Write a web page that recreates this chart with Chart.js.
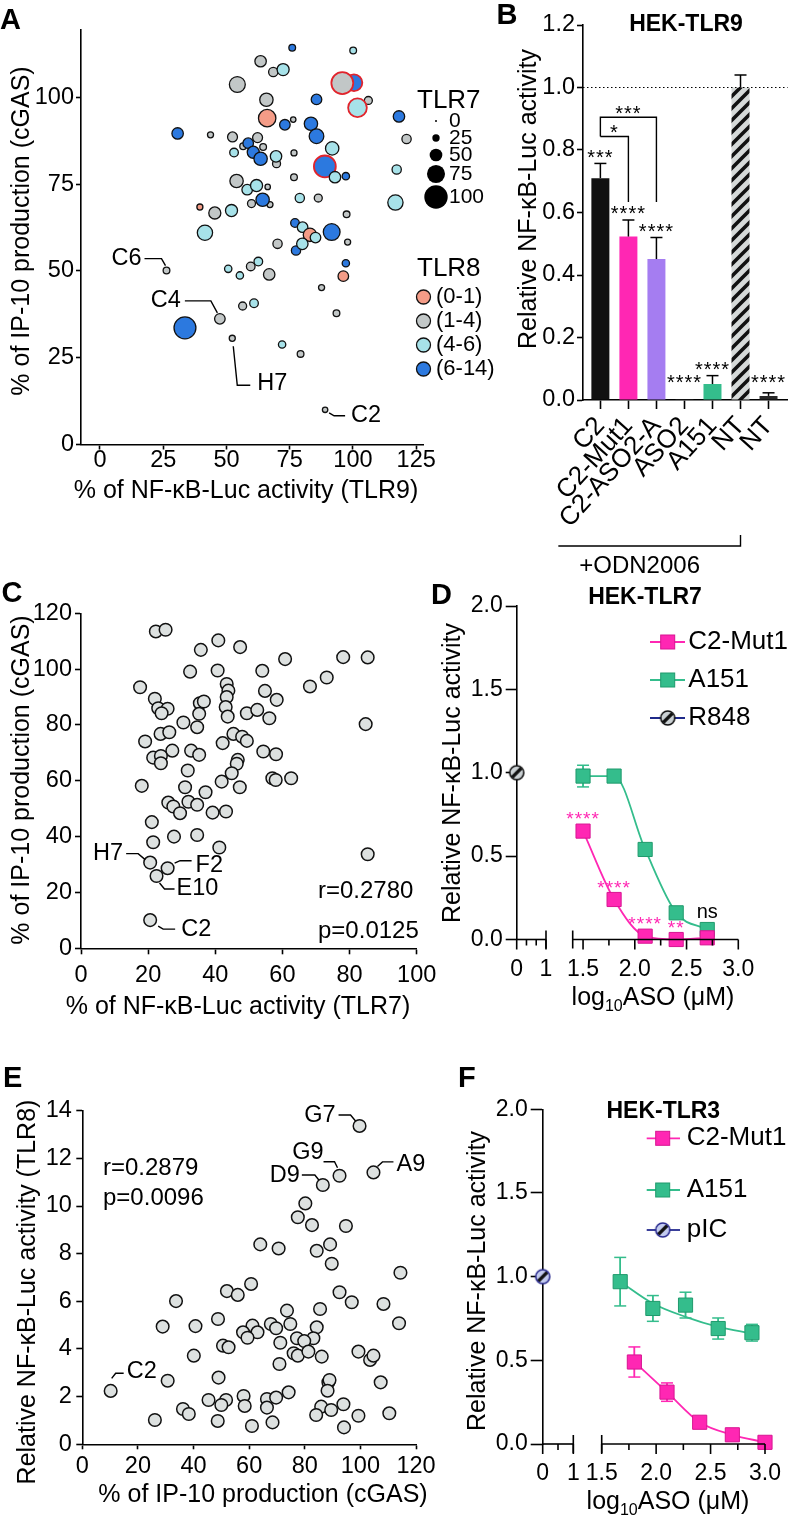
<!DOCTYPE html>
<html><head><meta charset="utf-8">
<script src="https://cdn.jsdelivr.net/npm/chart.js@4.4.1/dist/chart.umd.min.js"></script>
<style>
html,body{margin:0;padding:0;background:#fff;}
#wrap{position:relative;width:794px;height:1517px;overflow:hidden;background:#fff;}
canvas{position:absolute;left:0;top:0;}
</style></head><body>
<div id="wrap">
<canvas id="cA" width="794" height="1517"></canvas>
<canvas id="cB" width="794" height="1517"></canvas>
<canvas id="cC" width="794" height="1517"></canvas>
<canvas id="cD" width="794" height="1517"></canvas>
<canvas id="cE" width="794" height="1517"></canvas>
<canvas id="cF" width="794" height="1517"></canvas>
</div>
<script>
// ===================== DATA =====================
// Panel A: bubble scatter (x = TLR9 NF-kB %, y = cGAS IP-10 %, size = TLR7 %, colour = TLR8 group)
const aTLR9 = [76.0,100.1,63.5,68.5,72.4,54.3,100.4,95.8,65.8,85.6, 106.1,101.8,66.1,76.4,73.1,83.4,85.6,118.2,30.7,43.7, 52.4,62.3,56.6,64.5,58.6,60.6,69.8,63.5,53.0,69.6, 76.7,91.8,121.2,88.9,92.9,97.2,117.3,76.7,54.0,66.3, 58.2,61.9,59.9,67.2,64.3,79.0,86.3,39.5,45.4,52.0, 41.5,116.8,97.5,77.1,80.1,83.0,85.2,91.6,77.5,80.0, 70.2,97.9,97.2,96.2,87.6,26.3,50.7,55.3,59.6,62.6, 66.9,47.4,33.6,52.3,56.4,60.9,72.0,79.3,93.5,89.0];
const aCGAS = [114.3,113.5,110.4,107.3,108.0,103.7,104.2,104.1,99.3,99.4, 99.1,97.0,94.0,93.6,92.1,92.4,88.8,94.5,89.6,89.2, 88.6,88.4,85.9,85.7,86.8,84.2,80.9,82.3,84.1,83.0, 84.0,85.3,88.0,80.1,77.0,77.3,79.2,77.0,75.9,74.2, 73.4,74.6,69.4,69.1,70.5,71.0,71.0,68.4,66.7,67.4, 61.0,69.7,66.3,63.8,62.6,60.4,59.6,61.2,55.9,57.8, 57.8,58.3,52.2,48.5,45.2,50.1,50.6,48.7,51.3,52.7, 49.0,36.2,33.6,30.6,39.9,40.7,28.8,26.1,37.8,10.0];
const aTLR7 = [22,22,44,34,47,65,69,93,53,40, 28,78,72,16,40,53,59,44,44,19, 37,37,22,22,40,47,28,53,31,44, 19,53,34,93,44,25,34,22,53,16, 40,47,28,19,53,34,28,19,47,47, 62,62,22,31,40,53,40,69,34,44, 34,19,25,40,19,22,25,25,31,31, 44,40,93,19,28,31,25,22,22,16];
const aTLR8 = ['6-14','4-6','1-4','1-4','4-6','1-4','6-14','1-4','1-4','6-14', '1-4','4-6','0-1','1-4','6-14','6-14','6-14','6-14','6-14','1-4', '1-4','1-4','1-4','1-4','6-14','6-14','1-4','6-14','4-6','4-6', '1-4','4-6','1-4','6-14','4-6','6-14','4-6','1-4','1-4','1-4', '4-6','4-6','1-4','1-4','6-14','4-6','1-4','0-1','1-4','4-6', '4-6','4-6','1-4','6-14','4-6','0-1','4-6','6-14','6-14','4-6', '1-4','1-4','6-14','0-1','1-4','1-4','4-6','4-6','1-4','4-6', '1-4','1-4','6-14','1-4','1-4','4-6','4-6','1-4','1-4','1-4'];
const aRinged = [6, 7, 11, 33];
const aNamed = {65:'C6', 71:'C4', 73:'H7', 79:'C2'};
const aXTicks = [0,25,50,75,100,125];
const aYTicks = [0,25,50,75,100];
const aSizeKey = [0,25,50,75,100];
const aGroupKey = ['0-1','1-4','4-6','6-14'];

// Panel B: bars
const bLabels = ['C2','C2-Mut1','C2-ASO2-A','ASO2','A151','NT','NT'];
const bMean = [0.71,0.523,0.451,0.003,0.051,1.0,0.013];
const bSEM  = [0.047,0.053,0.069,0,0.027,0.04,0.01];
const bStars = ['***','****','****','****','****','','****'];
const bYTicks = [0,0.2,0.4,0.6,0.8,1.0,1.2];

// Panel C: scatter (x = TLR7 %, y = cGAS %)
const cTLR7 = [22.3,25.2,40.9,35.7,47.4,60.8,78.1,85.4,32.5,40.7, 54.0,73.2,68.2,17.6,43.4,43.9,54.8,22.0,58.3,35.4, 36.6,43.4,23.0,25.8,24.0,43.1,49.4,52.5,35.2,43.7, 56.1,84.8,30.5,34.6,23.7,26.3,45.4,48.0,49.4,19.1, 42.2,27.2,32.8,35.2,54.3,58.1,21.5,23.8,23.8,46.7, 46.4,31.8,44.9,41.9,47.3,18.1,31.0,37.1,57.0,58.0, 62.6,26.0,27.5,29.5,32.0,34.6,39.2,43.2,21.1,27.7, 34.6,21.5,41.2,20.6,25.8,22.5,20.6,85.4];
const cCGAS = [113.5,114.1,110.3,106.9,107.9,103.6,104.3,104.2,99.1,99.5, 99.4,97.0,93.8,93.5,94.7,92.3,92.2,89.4,89.0,87.8, 88.4,90.0,86.0,85.8,84.2,86.4,84.2,85.4,84.0,83.0, 82.4,80.3,80.9,79.2,76.8,77.4,76.8,75.8,74.3,74.1, 73.5,70.8,70.8,69.3,70.5,69.5,68.3,68.9,66.3,67.5, 66.1,63.7,62.7,59.7,57.7,58.2,57.7,55.9,60.9,60.3, 60.9,52.2,50.8,48.4,52.5,51.4,48.6,49.0,45.2,40.0, 40.6,38.0,36.1,30.7,28.7,25.9,10.1,33.7];
const cNamed = {73:'H7', 74:'F2', 75:'E10', 76:'C2'};
const cStats = ['r=0.2780','p=0.0125'];
const cXTicks = [0,20,40,60,80,100];
const cYTicks = [0,20,40,60,80,100,120];

// Panel D: HEK-TLR7 dose response
const dDose = [1.5,1.8,2.1,2.4,2.7];
const dMut1 = [0.65,0.24,0.02,0.0,0.01];
const dMut1Err = [0.02,0.02,0.01,0.01,0.01];
const dA151 = [0.98,0.98,0.54,0.16,0.06];
const dA151Err = [0.065,0.02,0.03,0.02,0.02];
const dR848 = 1.0;
const dMut1Stars = ['****','****','****','**',''];
const dA151Stars = ['','','','','ns'];

// Panel E: scatter (x = cGAS %, y = TLR8 activity)
const eCGAS = [99.7,92.5,104.7,86.5,80.2,77.5,82.6,94.8,64.0,70.6, 89.1,84.3,89.7,114.4,60.7,52.0,55.9,33.7,92.5,96.9, 108.3,85.5,73.6,48.8,28.9,40.7,61.2,67.8,74.8,84.3, 113.9,57.8,63.0,59.4,69.7,83.1,77.2,79.8,71.2,50.6, 52.6,99.3,76.0,77.5,81.3,86.1,103.5,104.7,40.1,70.9, 30.7,49.0,88.5,88.9,88.2,107.3,10.2,74.2,45.4,51.7, 58.0,66.4,69.7,50.0,58.4,66.4,36.2,38.3,85.9,89.5, 93.9,84.1,99.3,110.4,26.1,48.7,68.4,61.0,94.1];
const eTLR8 = [13.36,11.27,11.41,10.88,10.11,9.53,9.20,9.16,8.39,8.22, 8.39,8.12,7.58,7.20,6.73,6.43,6.27,6.01,6.38,5.96, 5.89,5.68,5.61,5.26,4.94,4.96,4.98,5.05,5.05,4.91, 5.08,4.70,4.70,4.47,4.87,4.45,4.45,4.33,4.26,4.14, 4.07,3.89,3.82,3.72,3.89,3.68,3.54,3.72,3.72,3.37, 2.67,2.80,2.60,2.70,2.25,2.60,2.24,2.18,1.86,1.86, 2.03,1.90,1.96,1.65,1.61,1.54,1.48,1.27,1.58,1.44, 1.68,1.23,1.20,1.30,1.02,0.98,0.92,0.77,0.71];
const eNamed = {0:'G7', 1:'G9', 2:'A9', 3:'D9', 56:'C2'};
const eStats = ['r=0.2879','p=0.0096'];
const eXTicks = [0,20,40,60,80,100,120];
const eYTicks = [0,2,4,6,8,10,12,14];

// Panel F: HEK-TLR3 dose response
const fMutDose = [1.8,2.1,2.4,2.7,3.0];
const fMut1 = [0.49,0.31,0.13,0.055,0.01];
const fMut1Err = [0.09,0.055,0.02,0.02,0.01];
const fA151Dose = [1.67,1.97,2.27,2.57,2.88];
const fA151 = [0.97,0.81,0.83,0.69,0.665];
const fA151Err = [0.145,0.077,0.077,0.063,0.05];
const fA151Fit = [0.97,0.84,0.76,0.70,0.66];
const fPIC = 1.0;

// shared tick sets for the dose-response panels
const dfYTicks = [0,0.5,1.0,1.5,2.0];
const brokenMajor = [0,1,1.5,2.0,2.5,3.0];
const brokenLabels = ['0','1','1.5','2.0','2.5','3.0'];
const dMinor = [1/3,2/3,1.75,2.25,2.75];
const fMinor = [0.5,1.75,2.25,2.75];

// ===================== STYLE / HELPERS =====================
const W = 794, H = 1517;
const FONT = "'Liberation Sans', Arial, Helvetica, sans-serif";
Chart.defaults.font.family = FONT;
Chart.defaults.color = '#000';
const MAG = '#FF27B3', MAGD = '#D81592', GRN = '#34BD8C', GRND = '#1F9A6C', LAV = '#A57DF1';
const GROUP_COLOR = {'0-1':'#F49C87','1-4':'#C2C7C7','4-6':'#A7E2E9','6-14':'#2C79DF'};
const PT_FILL = '#DDE1E0';
const sizeR = v => 1 + 0.107 * v;

function T(c, s, x, y, o) {
  o = o || {};
  c.save();
  c.font = (o.bold ? 'bold ' : '') + (o.size || 23.5) + 'px ' + FONT;
  c.fillStyle = o.color || '#000';
  c.textAlign = o.align || 'center';
  c.textBaseline = o.base || 'middle';
  if (o.ls) c.letterSpacing = o.ls + 'px';
  c.translate(x, y);
  if (o.rot) c.rotate(o.rot);
  c.fillText(s, 0, 0);
  c.restore();
}
function L(c, pts, o) {
  o = o || {};
  c.save();
  c.strokeStyle = o.color || '#000';
  c.lineWidth = o.w || 1.4;
  if (o.dash) c.setLineDash(o.dash);
  c.beginPath();
  pts.forEach((p, i) => i ? c.lineTo(p[0], p[1]) : c.moveTo(p[0], p[1]));
  c.stroke();
  c.restore();
}
function yTitle(c, s, x, y) { T(c, s, x, y, {size: 25, rot: -Math.PI / 2}); }
function letter(c, s, x, base) { T(c, s, x, base, {size: 29, bold: true, align: 'left', base: 'alphabetic'}); }
function stars(c, s, x, yc, color, size) { size = size || 20; T(c, s, x, yc + 0.57 * size, {size: size, base: 'alphabetic', color: color, ls: 1}); }
function errBar(c, x, y1, y2, cap, color) {
  L(c, [[x, y1], [x, y2]], {color: color, w: 1.5});
  L(c, [[x - cap, y2], [x + cap, y2]], {color: color, w: 1.5});
}
function logTitle(c, cx, cy) {
  const s = 25, ss = 16;
  c.save(); c.fillStyle = '#000'; c.textBaseline = 'alphabetic'; c.textAlign = 'left';
  const f1 = s + 'px ' + FONT, f2 = ss + 'px ' + FONT;
  c.font = f1; const w1 = c.measureText('log').width, w3 = c.measureText('ASO (\u03BCM)').width;
  c.font = f2; const w2 = c.measureText('10').width;
  let x = cx - (w1 + w2 + w3) / 2; const base = cy + 0.36 * s;
  c.font = f1; c.fillText('log', x, base); x += w1;
  c.font = f2; c.fillText('10', x, base + 6); x += w2;
  c.font = f1; c.fillText('ASO (\u03BCM)', x, base);
  c.restore();
}
function stripedDot(fill, edge) {
  const s = 18, r = 7, cv = document.createElement('canvas'); cv.width = s; cv.height = s;
  const g = cv.getContext('2d');
  g.beginPath(); g.arc(s / 2, s / 2, r, 0, 2 * Math.PI); g.fillStyle = fill; g.fill();
  g.save(); g.clip(); g.strokeStyle = '#111'; g.lineWidth = 3.2;
  g.beginPath(); g.moveTo(s / 2 - 4.5, s / 2 + 4.5); g.lineTo(s / 2 + 4.5, s / 2 - 4.5); g.stroke(); g.restore();
  g.beginPath(); g.arc(s / 2, s / 2, r, 0, 2 * Math.PI); g.strokeStyle = edge; g.lineWidth = 1.6; g.stroke();
  return cv;
}
function hatchPattern(ctx) {
  const p = document.createElement('canvas'); p.width = 12; p.height = 12;
  const g = p.getContext('2d');
  g.fillStyle = '#D5D9D8'; g.fillRect(0, 0, 12, 12);
  g.strokeStyle = '#111'; g.lineWidth = 3.6;
  g.beginPath(); g.moveTo(-3, 15); g.lineTo(15, -3); g.moveTo(-3, 3); g.lineTo(3, -3); g.moveTo(9, 15); g.lineTo(15, 9); g.stroke();
  return ctx.createPattern(p, 'repeat');
}

// axis factory: chart area fixed through layout padding + afterFit
function axis(s, dir, area) {
  return {
    type: s.type || 'linear', min: s.min, max: s.max, display: s.display !== false,
    position: dir === 'x' ? 'bottom' : 'left', offset: false,
    border: {display: true, color: '#000', width: 1.6},
    grid: {display: true, drawOnChartArea: false, drawTicks: true, offset: false, tickLength: s.tl || 0, tickColor: '#000', tickWidth: 1.6},
    ticks: {color: '#000', font: {family: FONT, size: s.fs || 23.5}, padding: s.pad || 0, autoSkip: false,
            maxRotation: s.rot || 0, minRotation: s.rot || 0, callback: s.fmt || (v => String(v))},
    afterBuildTicks: sc => { sc.ticks = s.ticks.map(v => ({value: v})); },
    afterFit: dir === 'x' ? (sc => { sc.height = H - area.bottom; }) : (sc => { sc.width = area.left; }),
    title: {display: false}
  };
}
function options(area, xs, ys) {
  return {
    responsive: false, animation: false, devicePixelRatio: 1, events: [],
    layout: {padding: {left: 0, top: area.top, right: W - area.right, bottom: 0}},
    plugins: {legend: {display: false}, tooltip: {enabled: false}, title: {display: false}},
    scales: {x: axis(xs, 'x', area), y: axis(ys, 'y', area)}
  };
}

// broken x scale used by panels D and F
const BRK = {
  cD: {a0: 0, a1: 1, b0: 1.4, b1: 3.0, f1: 0.1322, f2: 0.2527},
  cF: {a0: 0, a1: 1, b0: 1.5, b1: 3.0, f1: 0.1377, f2: 0.2654}
};
class BrokenLinear extends Chart.LinearScale {
  getPixelForValue(v) {
    const b = BRK[this.chart.canvas.id];
    let t;
    if (v <= (b.a1 + b.b0) / 2) t = (v - b.a0) / (b.a1 - b.a0) * b.f1;
    else t = b.f2 + (v - b.b0) / (b.b1 - b.b0) * (1 - b.f2);
    return this.left + t * this.width;
  }
  getValueForPixel(p) {
    const b = BRK[this.chart.canvas.id];
    const t = (p - this.left) / this.width;
    if (t <= b.f1) return b.a0 + t / b.f1 * (b.a1 - b.a0);
    return b.b0 + (t - b.f2) / (1 - b.f2) * (b.b1 - b.b0);
  }
}
BrokenLinear.id = 'brokenLinear';
BrokenLinear.defaults = Chart.LinearScale.defaults;
Chart.register(BrokenLinear);

function brokenAxis(ch, seg2start, minor) {
  const c = ch.ctx, xs = ch.scales.x, y0 = ch.chartArea.bottom, px = v => xs.getPixelForValue(v);
  L(c, [[px(0), y0], [px(1), y0]], {w: 1.6});
  L(c, [[px(seg2start), y0], [px(3.0), y0]], {w: 1.6});
  [1, seg2start].forEach(v => L(c, [[px(v), y0 - 9], [px(v), y0 + 9]], {w: 1.6}));
  brokenMajor.forEach(v => L(c, [[px(v), y0], [px(v), y0 + 10]], {w: 1.6}));
  minor.forEach(v => L(c, [[px(v), y0], [px(v), y0 + 6]], {w: 1.6}));
  brokenMajor.forEach((v, i) => T(c, brokenLabels[i], px(v), y0 + 30, {size: 23}));
}
function seriesLegend(c, items, x0, x1, xm, xt) {
  items.forEach(it => {
    L(c, [[x0, it.y], [x1, it.y]], {color: it.line, w: 1.8});
    if (it.img) c.drawImage(it.img, xm - it.img.width / 2, it.y - it.img.height / 2);
    else { c.fillStyle = it.fill; c.fillRect(xm - 7, it.y - 7, 14, 14); c.strokeStyle = it.edge; c.lineWidth = 1; c.strokeRect(xm - 7, it.y - 7, 14, 14); }
    T(c, it.text, xt, it.y, {size: 26, align: 'left'});
  });
}
function ov(id, after, before) { return {id: id, afterDraw: after, beforeDatasetsDraw: before}; }

// ===================== PANEL A =====================
const areaA = {left: 81, top: 30, right: 423, bottom: 444.5};
new Chart(document.getElementById('cA'), {
  type: 'scatter',
  data: {datasets: [{
    data: aTLR9.map((x, i) => ({x: x, y: aCGAS[i]})),
    pointRadius: ctx => sizeR(aTLR7[ctx.dataIndex]),
    pointBackgroundColor: ctx => GROUP_COLOR[aTLR8[ctx.dataIndex]],
    pointBorderColor: ctx => aRinged.includes(ctx.dataIndex) ? '#E1242C' : '#111',
    pointBorderWidth: ctx => aRinged.includes(ctx.dataIndex) ? 1.8 : 1.3,
    clip: false
  }]},
  options: options(areaA,
    {min: -7.5, max: 127.7, ticks: aXTicks, tl: 5, pad: -3.5},
    {min: 0, max: 119.4, ticks: aYTicks, tl: 5, pad: 2}),
  plugins: [ov('ovA', ch => {
    const c = ch.ctx, xs = ch.scales.x, ys = ch.scales.y, a = ch.chartArea;
    letter(c, 'A', 0, 28.5);
    yTitle(c, '% of IP-10 production (cGAS)', 22, 231);
    T(c, '% of NF-\u03BAB-Luc activity (TLR9)', 246, 491, {size: 25});
    const P = i => [xs.getPixelForValue(aTLR9[i]), ys.getPixelForValue(aCGAS[i])];
    let x, y;
    [x, y] = P(65); L(c, [[x - 22, y - 12], [x - 5, y - 12], [x - 1, y - 5]]); T(c, aNamed[65], x - 25, y - 12, {align: 'right'});
    [x, y] = P(71); L(c, [[x - 35, y - 18], [x - 9, y - 18], [x - 2.5, y - 6]]); T(c, aNamed[71], x - 39, y - 18, {align: 'right'});
    [x, y] = P(73); L(c, [[x + 1, y + 8], [x + 5, y + 47], [x + 18, y + 47]]); T(c, aNamed[73], x + 25, y + 45, {align: 'left'});
    [x, y] = P(79); L(c, [[x + 4, y + 3], [x + 9, y + 6], [x + 20, y + 6]]); T(c, aNamed[79], x + 26, y + 6, {align: 'left'});
    // size legend (TLR7)
    const lx = a.right - 6;
    T(c, 'TLR7', lx, 101, {size: 26, align: 'left'});
    const sy = [121, 138, 155, 174, 197];
    aSizeKey.forEach((v, i) => {
      c.beginPath(); c.arc(lx + 19, sy[i], sizeR(v), 0, 2 * Math.PI); c.fillStyle = '#000'; c.fill();
      T(c, String(v), lx + 32, sy[i], {size: 21, align: 'left'});
    });
    // colour legend (TLR8)
    T(c, 'TLR8', lx, 269, {size: 26, align: 'left'});
    const gy = [297, 321, 345, 369];
    aGroupKey.forEach((g, i) => {
      c.beginPath(); c.arc(lx + 6.5, gy[i], 7, 0, 2 * Math.PI); c.fillStyle = GROUP_COLOR[g]; c.fill();
      c.lineWidth = 1.3; c.strokeStyle = '#111'; c.stroke();
      T(c, '(' + g + ')', lx + 19, gy[i], {size: 22, align: 'left'});
    });
  })]
});

// ===================== PANEL B =====================
const areaB = {left: 583, top: 25, right: 791, bottom: 400};
const ctxB = document.getElementById('cB').getContext('2d');
new Chart(ctxB, {
  type: 'bar',
  data: {datasets: [{
    data: bMean.map((v, i) => ({x: i, y: v})),
    backgroundColor: ['#111111', MAG, LAV, '#222222', GRN, hatchPattern(ctxB), '#2A2A2A'],
    borderWidth: 0, barPercentage: 0.642, categoryPercentage: 1
  }]},
  options: options(areaB,
    {min: -0.62, max: 6.68, ticks: [0, 1, 2, 3, 4, 5, 6], tl: 9, pad: 2, rot: 48, fs: 26, fmt: v => bLabels[v]},
    {min: 0, max: 1.2, ticks: bYTicks, tl: 6, pad: 2, fmt: v => v.toFixed(1)}),
  plugins: [ov('ovB', ch => {
    const c = ch.ctx, xs = ch.scales.x, ys = ch.scales.y, a = ch.chartArea;
    const X = i => xs.getPixelForValue(i), Y = v => ys.getPixelForValue(v);
    letter(c, 'B', 496.5, 23.5);
    T(c, 'HEK-TLR9', 686, 25, {size: 23, bold: true});
    yTitle(c, 'Relative NF-\u03BAB-Luc activity', 529, 199);
    L(c, [[a.left, Y(1)], [a.right, Y(1)]], {w: 1, dash: [1.5, 2.5]});
    bMean.forEach((v, i) => {
      if (bSEM[i] > 0) errBar(c, X(i), Y(v), Y(v + bSEM[i]), 6, '#000');
      if (bStars[i]) stars(c, bStars[i], X(i), Y(Math.max(v + bSEM[i], 0.035)) - 11, '#000', 20);
    });
    // comparison brackets C2 vs C2-Mut1 (*) and C2 vs C2-ASO2-A (***)
    L(c, [[X(0), Y(0.843)], [X(0), Y(0.905)], [X(2), Y(0.905)], [X(2), Y(0.634)]]);
    L(c, [[X(0), Y(0.843)], [X(1), Y(0.843)], [X(1), Y(0.634)]]);
    stars(c, '***', X(1), Y(0.905) - 9, '#000', 20);
    stars(c, '*', (X(0) + X(1)) / 2, Y(0.843) - 9, '#000', 20);
    // +ODN2006 bracket
    const yb = a.bottom + 146;
    L(c, [[X(-1.5), yb], [X(5), yb], [X(5), yb - 11]]);
    T(c, '+ODN2006', X(1.4), a.bottom + 166, {size: 24});
  })]
});

// ===================== PANEL C =====================
const areaC = {left: 81, top: 613.3, right: 416.7, bottom: 948.3};
new Chart(document.getElementById('cC'), {
  type: 'scatter',
  data: {datasets: [{
    data: cTLR7.map((x, i) => ({x: x, y: cCGAS[i]})),
    pointRadius: 6.3, backgroundColor: PT_FILL, borderColor: '#111', borderWidth: 1.5, clip: false
  }]},
  options: options(areaC,
    {min: 0, max: 100, ticks: cXTicks, tl: 6, pad: 7.4},
    {min: 0, max: 120, ticks: cYTicks, tl: 6, pad: 3}),
  plugins: [ov('ovC', ch => {
    const c = ch.ctx, xs = ch.scales.x, ys = ch.scales.y;
    letter(c, 'C', 1.5, 601.5);
    yTitle(c, '% of IP-10 production (cGAS)', 22, 780);
    T(c, '% of NF-\u03BAB-Luc activity (TLR7)', 238, 1006.7, {size: 25});
    T(c, cStats[0], 318, 891, {size: 24, align: 'left'});
    T(c, cStats[1], 318, 931.7, {size: 24, align: 'left'});
    const P = i => [xs.getPixelForValue(cTLR7[i]), ys.getPixelForValue(cCGAS[i])];
    let x, y;
    [x, y] = P(73); L(c, [[x - 24, y - 9], [x - 12, y - 9], [x - 5, y - 3]]); T(c, cNamed[73], x - 27, y - 9.5, {align: 'right'});
    [x, y] = P(74); L(c, [[x + 7, y - 5], [x + 12.5, y - 7.5], [x + 24, y - 7.5]]); T(c, cNamed[74], x + 28, y - 2.5, {align: 'left'});
    [x, y] = P(75); L(c, [[x + 3, y + 7], [x + 8, y + 13], [x + 18, y + 13]]); T(c, cNamed[75], x + 20, y + 13, {align: 'left'});
    [x, y] = P(76); L(c, [[x + 8, y + 6], [x + 13, y + 9], [x + 25, y + 9]]); T(c, cNamed[76], x + 31, y + 9, {align: 'left'});
  })]
});

// ===================== PANEL D =====================
const areaD = {left: 516.7, top: 606, right: 738.3, bottom: 939.5};
const r848Dot = stripedDot('#CBD1D4', '#111');
new Chart(document.getElementById('cD'), {
  type: 'line',
  data: {datasets: [
    {data: dDose.map((x, i) => ({x: x, y: dMut1[i]})), borderColor: MAG, borderWidth: 1.8, pointStyle: 'rect', pointRadius: 10,
     pointBackgroundColor: MAG, pointBorderColor: MAGD, pointBorderWidth: 1, cubicInterpolationMode: 'monotone', clip: false},
    {data: dDose.map((x, i) => ({x: x, y: dA151[i]})), borderColor: GRN, borderWidth: 1.8, pointStyle: 'rect', pointRadius: 10,
     pointBackgroundColor: GRN, pointBorderColor: GRND, pointBorderWidth: 1, cubicInterpolationMode: 'monotone', clip: false},
    {data: [{x: 0, y: dR848}], showLine: false, pointStyle: r848Dot, pointRadius: 8, clip: false}
  ]},
  options: options(areaD,
    {type: 'brokenLinear', min: 0, max: 3.0, display: false, ticks: brokenMajor},
    {min: 0, max: 2.0, ticks: dfYTicks, tl: 11, pad: 3, fs: 23, fmt: v => v.toFixed(1)}),
  plugins: [ov('ovD', ch => {
    const c = ch.ctx, xs = ch.scales.x, ys = ch.scales.y;
    letter(c, 'D', 431, 603.5);
    T(c, 'HEK-TLR7', 645, 598, {size: 23, bold: true});
    yTitle(c, 'Relative NF-\u03BAB-Luc activity', 453, 773);
    logTitle(c, 653, 996);
    brokenAxis(ch, 1.4, dMinor);
    seriesLegend(c, [
      {y: 642, line: MAG, fill: MAG, edge: MAGD, text: 'C2-Mut1'},
      {y: 680, line: GRN, fill: GRN, edge: GRND, text: 'A151'},
      {y: 718, line: '#1F2A8A', img: r848Dot, text: 'R848'}
    ], 650, 685, 667.7, 688.3);
    dDose.forEach((d, i) => {
      if (dMut1Stars[i]) stars(c, dMut1Stars[i], xs.getPixelForValue(d), ys.getPixelForValue(dMut1[i] + 0.1), MAG, 19);
      if (dA151Stars[i]) T(c, dA151Stars[i], xs.getPixelForValue(d), ys.getPixelForValue(dA151[i] + 0.1), {size: 20});
    });
  }, ch => {
    const c = ch.ctx, xs = ch.scales.x, ys = ch.scales.y;
    dDose.forEach((d, i) => {
      errBar(c, xs.getPixelForValue(d), ys.getPixelForValue(dA151[i] - dA151Err[i]), ys.getPixelForValue(dA151[i] + dA151Err[i]), 6, GRN);
      errBar(c, xs.getPixelForValue(d), ys.getPixelForValue(dA151[i] + dA151Err[i]), ys.getPixelForValue(dA151[i] - dA151Err[i]), 6, GRN);
      errBar(c, xs.getPixelForValue(d), ys.getPixelForValue(dMut1[i] - dMut1Err[i]), ys.getPixelForValue(dMut1[i] + dMut1Err[i]), 6, MAG);
    });
  })]
});

// ===================== PANEL E =====================
const areaE = {left: 82.3, top: 1110.7, right: 416, bottom: 1444.3};
new Chart(document.getElementById('cE'), {
  type: 'scatter',
  data: {datasets: [{
    data: eCGAS.map((x, i) => ({x: x, y: eTLR8[i]})),
    pointRadius: 6.3, backgroundColor: PT_FILL, borderColor: '#111', borderWidth: 1.5, clip: false
  }]},
  options: options(areaE,
    {min: 0, max: 120, ticks: eXTicks, tl: 5, pad: 3.3},
    {min: 0, max: 14, ticks: eYTicks, tl: 6, pad: 4.5}),
  plugins: [ov('ovE', ch => {
    const c = ch.ctx, xs = ch.scales.x, ys = ch.scales.y;
    letter(c, 'E', 3, 1087);
    yTitle(c, 'Relative NF-\u03BAB-Luc activity (TLR8)', 28.5, 1292);
    T(c, '% of IP-10 production (cGAS)', 263, 1495, {size: 25});
    T(c, eStats[0], 103, 1168.3, {size: 24, align: 'left'});
    T(c, eStats[1], 103, 1198.3, {size: 24, align: 'left'});
    const P = i => [xs.getPixelForValue(eCGAS[i]), ys.getPixelForValue(eTLR8[i])];
    let x, y;
    [x, y] = P(0); L(c, [[x - 21, y - 11], [x - 9, y - 11], [x - 4, y - 5]]); T(c, eNamed[0], x - 24, y - 10, {align: 'right'});
    [x, y] = P(1); L(c, [[x - 16, y - 14], [x - 5, y - 14], [x - 2, y - 8]]); T(c, eNamed[1], x - 16, y - 23, {align: 'right'});
    [x, y] = P(3); L(c, [[x - 21, y - 10], [x - 8, y - 10], [x - 4, y - 5]]); T(c, eNamed[3], x - 23, y - 10, {align: 'right'});
    [x, y] = P(2); L(c, [[x + 4, y - 6], [x + 9, y - 10.5], [x + 20, y - 10.5]]); T(c, eNamed[2], x + 23, y - 8, {align: 'left'});
    [x, y] = P(56); L(c, [[x + 1, y - 12.5], [x + 5, y - 17.7], [x + 13, y - 17.7]]); T(c, eNamed[56], x + 16, y - 19, {align: 'left'});
  })]
});

// ===================== PANEL F =====================
const areaF = {left: 542.7, top: 1109.3, right: 765, bottom: 1444};
const picDot = stripedDot('#C3CBEF', '#2B2C8F');
new Chart(document.getElementById('cF'), {
  type: 'line',
  data: {datasets: [
    {data: fMutDose.map((x, i) => ({x: x, y: fMut1[i]})), borderColor: MAG, borderWidth: 1.8, pointStyle: 'rect', pointRadius: 10,
     pointBackgroundColor: MAG, pointBorderColor: MAGD, pointBorderWidth: 1, cubicInterpolationMode: 'monotone', clip: false},
    {data: fA151Dose.map((x, i) => ({x: x, y: fA151[i]})), showLine: false, pointStyle: 'rect', pointRadius: 10,
     pointBackgroundColor: GRN, pointBorderColor: GRND, pointBorderWidth: 1, clip: false},
    {data: fA151Dose.map((x, i) => ({x: x, y: fA151Fit[i]})), borderColor: GRN, borderWidth: 1.8, pointRadius: 0, cubicInterpolationMode: 'monotone', clip: false},
    {data: [{x: 0, y: fPIC}], showLine: false, pointStyle: picDot, pointRadius: 8, clip: false}
  ]},
  options: options(areaF,
    {type: 'brokenLinear', min: 0, max: 3.0, display: false, ticks: brokenMajor},
    {min: 0, max: 2.0, ticks: dfYTicks, tl: 12, pad: 3, fs: 23, fmt: v => v.toFixed(1)}),
  plugins: [ov('ovF', ch => {
    const c = ch.ctx;
    letter(c, 'F', 458, 1087);
    T(c, 'HEK-TLR3', 663.3, 1111.7, {size: 23, bold: true});
    yTitle(c, 'Relative NF-\u03BAB-Luc activity', 478, 1281);
    logTitle(c, 668, 1500);
    brokenAxis(ch, 1.5, fMinor);
    seriesLegend(c, [
      {y: 1138.3, line: MAG, fill: MAG, edge: MAGD, text: 'C2-Mut1'},
      {y: 1190, line: GRN, fill: GRN, edge: GRND, text: 'A151'},
      {y: 1230, line: '#3A3F9A', img: picDot, text: 'pIC'}
    ], 646.7, 680, 662.7, 686.7);
  }, ch => {
    const c = ch.ctx, xs = ch.scales.x, ys = ch.scales.y;
    fA151Dose.forEach((d, i) => {
      errBar(c, xs.getPixelForValue(d), ys.getPixelForValue(fA151[i] - fA151Err[i]), ys.getPixelForValue(fA151[i] + fA151Err[i]), 6, GRN);
      errBar(c, xs.getPixelForValue(d), ys.getPixelForValue(fA151[i] + fA151Err[i]), ys.getPixelForValue(fA151[i] - fA151Err[i]), 6, GRN);
    });
    fMutDose.forEach((d, i) => {
      errBar(c, xs.getPixelForValue(d), ys.getPixelForValue(fMut1[i] - fMut1Err[i]), ys.getPixelForValue(fMut1[i] + fMut1Err[i]), 6, MAG);
      errBar(c, xs.getPixelForValue(d), ys.getPixelForValue(fMut1[i] + fMut1Err[i]), ys.getPixelForValue(fMut1[i] - fMut1Err[i]), 6, MAG);
    });
  })]
});
</script>
</body></html>
